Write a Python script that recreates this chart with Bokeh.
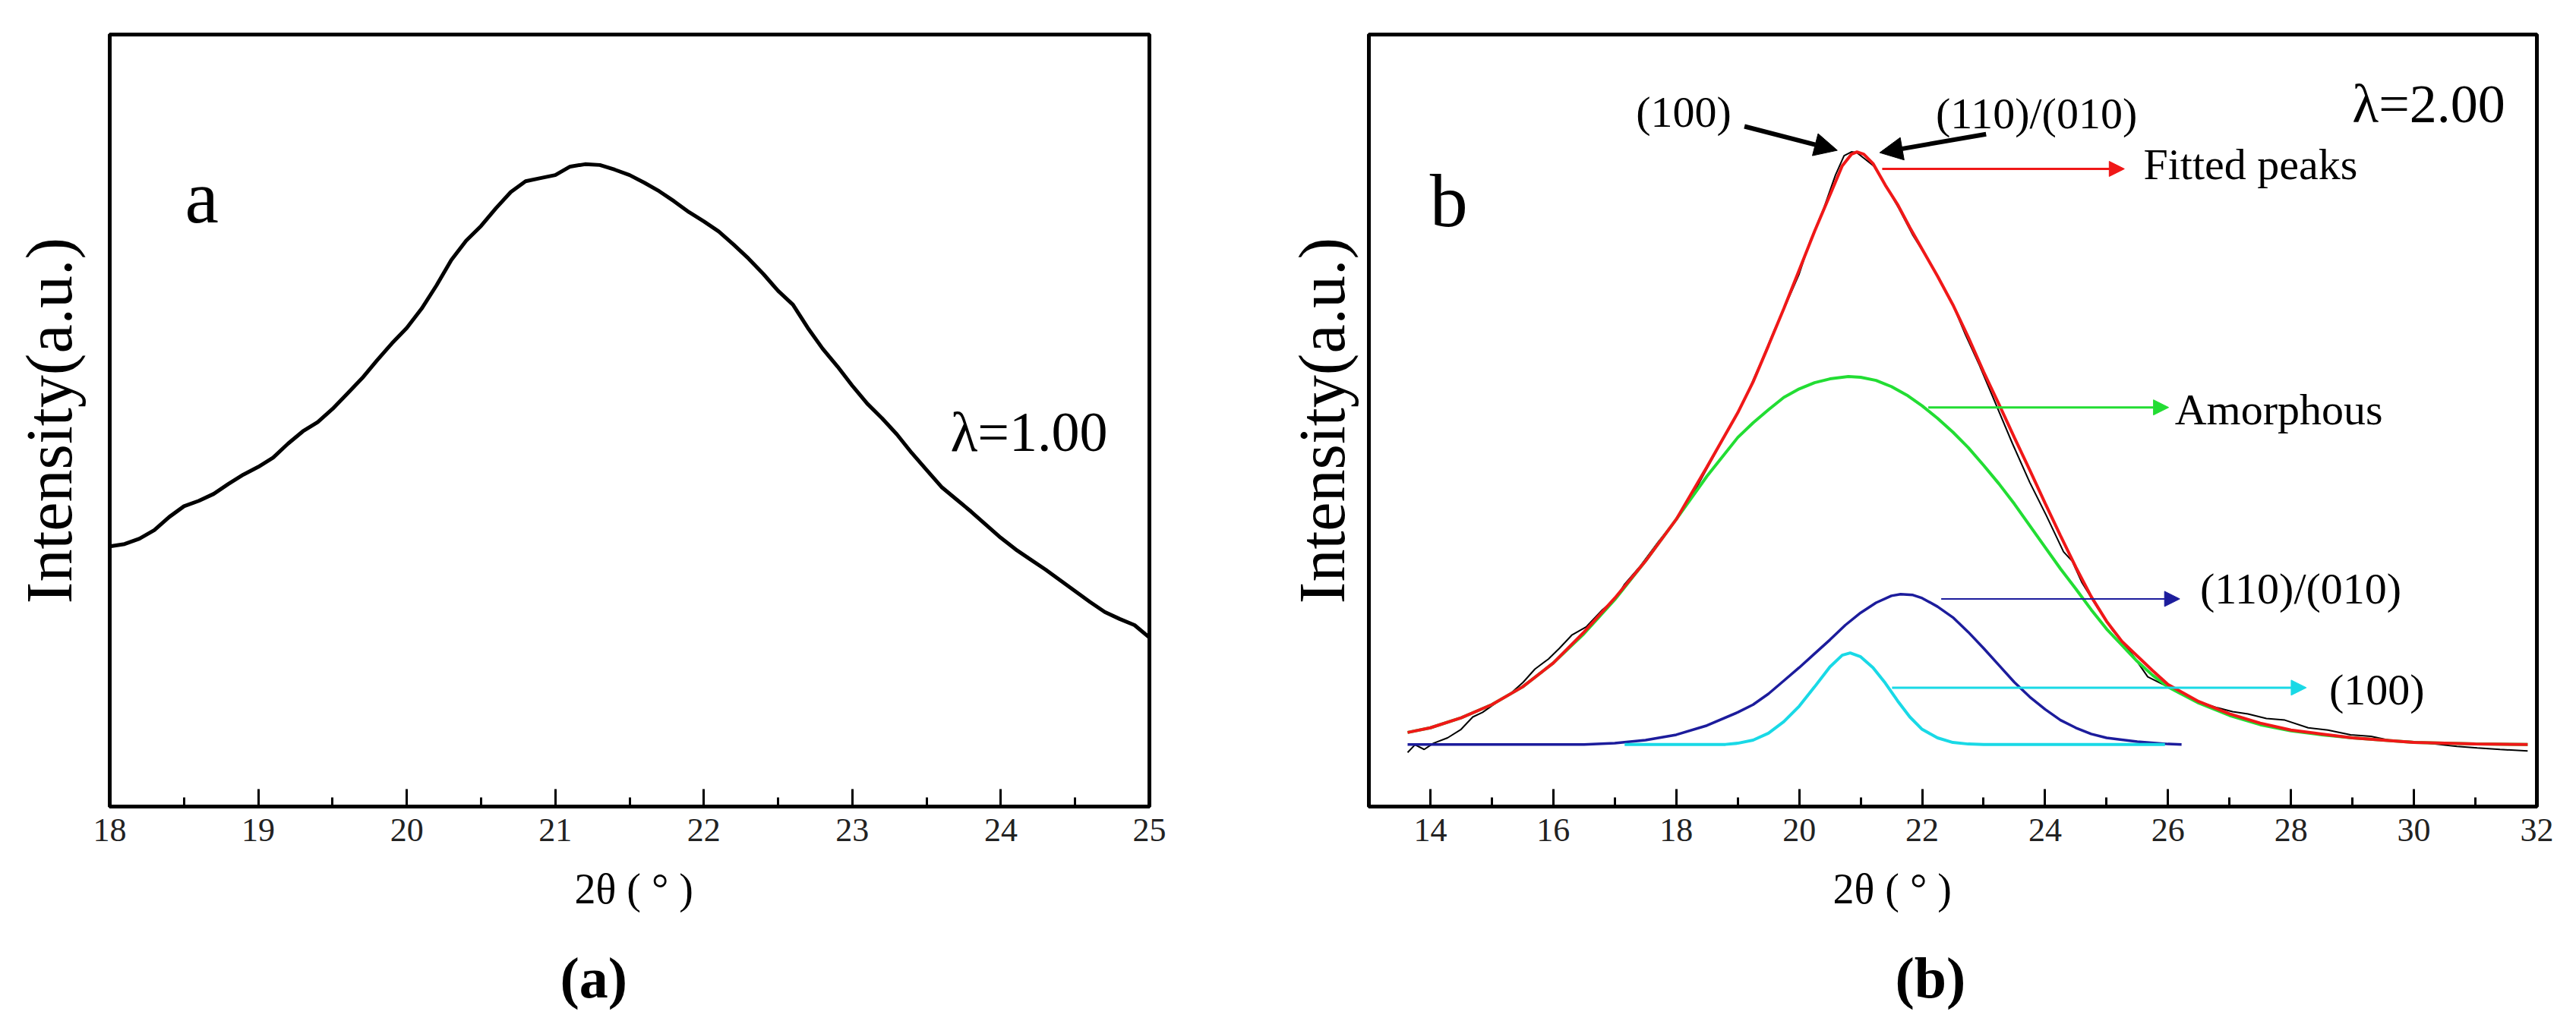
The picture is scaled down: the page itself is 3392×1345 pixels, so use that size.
from bokeh.plotting import figure
from bokeh.layouts import row
from bokeh.models import Label, Arrow, NormalHead, FixedTicker, Range1d, Title
from bokeh.embed import file_html
from bokeh.resources import INLINE

FONT = "Liberation Serif"

# ---------------- panel (a) data: lambda = 1.00 ----------------
xa = [18.0, 18.1, 18.2, 18.3, 18.4, 18.5, 18.6, 18.7, 18.8, 18.9, 19.0, 19.1, 19.2,
      19.3, 19.4, 19.5, 19.6, 19.7, 19.8, 19.9, 20.0, 20.1, 20.2, 20.3, 20.4, 20.5,
      20.6, 20.7, 20.8, 20.9, 21.0, 21.1, 21.2, 21.3, 21.4, 21.5, 21.6, 21.7, 21.8,
      21.9, 22.0, 22.1, 22.2, 22.3, 22.4, 22.5, 22.6, 22.7, 22.8, 22.9, 23.0, 23.1,
      23.2, 23.3, 23.4, 23.5, 23.6, 23.7, 23.8, 23.9, 24.0, 24.1, 24.2, 24.3, 24.4,
      24.5, 24.6, 24.7, 24.8, 24.9, 25.0]
ya = [0.337, 0.340, 0.347, 0.358, 0.375, 0.389, 0.396, 0.405, 0.418, 0.430, 0.440,
      0.452, 0.470, 0.486, 0.498, 0.515, 0.535, 0.555, 0.578, 0.600, 0.620, 0.645,
      0.675, 0.708, 0.733, 0.752, 0.775, 0.796, 0.810, 0.814, 0.818, 0.829, 0.832,
      0.831, 0.825, 0.818, 0.808, 0.797, 0.784, 0.770, 0.758, 0.745, 0.728, 0.710,
      0.690, 0.668, 0.650, 0.620, 0.593, 0.570, 0.545, 0.522, 0.503, 0.482, 0.458,
      0.436, 0.414, 0.398, 0.382, 0.365, 0.348, 0.333, 0.320, 0.307, 0.293, 0.279,
      0.265, 0.252, 0.243, 0.235, 0.219]

# ---------------- panel (b) data: lambda = 2.00 ----------------
xb_obs = [13.63, 13.75, 13.90, 14.05, 14.28, 14.50, 14.69, 14.85, 15.10, 15.30, 15.51,
          15.70, 15.92, 16.10, 16.30, 16.54, 16.80, 17.02, 17.16, 17.40, 17.71, 18.00,
          18.26, 18.50, 18.81, 19.10, 19.36, 19.60, 19.77, 20.00, 20.18, 20.40, 20.59,
          20.73, 20.85, 20.94, 21.05, 21.21, 21.40, 21.62, 21.85, 22.10, 22.30, 22.51,
          22.70, 22.93, 23.20, 23.47, 23.75, 24.02, 24.30, 24.44, 24.60, 24.85, 25.10,
          25.40, 25.67, 25.95, 26.20, 26.50, 26.80, 27.05, 27.30, 27.60, 27.90, 28.28,
          28.60, 28.97, 29.30, 29.65, 30.00, 30.34, 30.70, 31.03, 31.40, 31.85]
yb_obs = [0.070, 0.080, 0.074, 0.082, 0.089, 0.100, 0.116, 0.122, 0.136, 0.146, 0.161,
          0.178, 0.191, 0.205, 0.222, 0.233, 0.255, 0.270, 0.288, 0.310, 0.343, 0.372,
          0.403, 0.438, 0.483, 0.525, 0.572, 0.618, 0.648, 0.690, 0.733, 0.775, 0.818,
          0.843, 0.848, 0.847, 0.840, 0.830, 0.805, 0.775, 0.740, 0.708, 0.680, 0.648,
          0.612, 0.572, 0.521, 0.470, 0.420, 0.377, 0.330, 0.318, 0.290, 0.258, 0.228,
          0.199, 0.168, 0.157, 0.146, 0.136, 0.128, 0.123, 0.120, 0.114, 0.112, 0.102,
          0.099, 0.093, 0.091, 0.085, 0.084, 0.081, 0.078, 0.076, 0.074, 0.072]

xb_fit = [13.63, 14.0, 14.5, 15.0, 15.5, 16.0, 16.5, 17.0, 17.5, 18.0, 18.5, 19.0,
          19.25, 19.5, 19.75, 20.0, 20.25, 20.5, 20.7, 20.85, 20.94, 21.05, 21.2, 21.4,
          21.6, 21.8, 22.0, 22.25, 22.5, 22.75, 23.0, 23.25, 23.5, 23.75, 24.0, 24.25,
          24.5, 24.75, 25.0, 25.25, 25.5, 25.75, 26.0, 26.5, 27.0, 27.5, 28.0, 28.5,
          29.0, 29.5, 30.0, 30.5, 31.0, 31.85]
yb_fit = [0.096, 0.102, 0.115, 0.132, 0.155, 0.186, 0.226, 0.270, 0.318, 0.372, 0.440,
          0.510, 0.550, 0.597, 0.645, 0.695, 0.745, 0.792, 0.830, 0.845, 0.848, 0.845,
          0.833, 0.805, 0.780, 0.750, 0.722, 0.687, 0.650, 0.608, 0.563, 0.521, 0.478,
          0.436, 0.393, 0.351, 0.310, 0.272, 0.240, 0.214, 0.195, 0.176, 0.158, 0.136,
          0.120, 0.108, 0.099, 0.094, 0.089, 0.086, 0.083, 0.082, 0.081, 0.0805]

xb_amor = [13.63, 14.0, 14.5, 15.0, 15.5, 16.0, 16.5, 17.0, 17.5, 18.0, 18.5, 19.0,
           19.25, 19.5, 19.75, 20.0, 20.25, 20.5, 20.8, 21.0, 21.25, 21.5, 21.75, 22.0,
           22.25, 22.5, 22.75, 23.0, 23.25, 23.5, 23.75, 24.0, 24.25, 24.5, 24.75, 25.0,
           25.25, 25.5, 25.75, 26.0, 26.5, 27.0, 27.5, 28.0, 28.5, 29.0, 30.0, 31.0, 31.85]
yb_amor = [0.096, 0.102, 0.115, 0.132, 0.155, 0.186, 0.224, 0.268, 0.318, 0.372, 0.428,
           0.478, 0.497, 0.514, 0.530, 0.541, 0.549, 0.554, 0.557, 0.556, 0.552, 0.544,
           0.533, 0.519, 0.503, 0.485, 0.465, 0.442, 0.418, 0.392, 0.364, 0.336, 0.308,
           0.282, 0.255, 0.230, 0.209, 0.188, 0.170, 0.155, 0.134, 0.118, 0.106, 0.098,
           0.093, 0.089, 0.083, 0.081, 0.0805]

xb_110 = [13.63, 16.5, 17.0, 17.5, 18.0, 18.5, 19.0, 19.25, 19.5, 19.75, 20.0, 20.25,
          20.5, 20.75, 21.0, 21.25, 21.5, 21.65, 21.85, 22.0, 22.25, 22.5, 22.75, 23.0,
          23.25, 23.5, 23.75, 24.0, 24.25, 24.5, 24.75, 25.0, 25.5, 26.0, 26.22]
yb_110 = [0.0805, 0.0805, 0.082, 0.086, 0.093, 0.105, 0.122, 0.132, 0.146, 0.163, 0.180,
          0.198, 0.216, 0.235, 0.251, 0.264, 0.273, 0.275, 0.274, 0.270, 0.259, 0.245,
          0.226, 0.205, 0.183, 0.161, 0.142, 0.126, 0.112, 0.102, 0.094, 0.089, 0.084,
          0.081, 0.0805]

xb_100 = [17.16, 18.8, 19.0, 19.25, 19.5, 19.75, 20.0, 20.25, 20.5, 20.7, 20.83, 21.0,
          21.2, 21.4, 21.6, 21.8, 22.0, 22.25, 22.5, 22.75, 23.0, 25.95]
yb_100 = [0.0805, 0.0805, 0.082, 0.086, 0.095, 0.110, 0.130, 0.155, 0.181, 0.196, 0.199,
          0.194, 0.180, 0.160, 0.137, 0.116, 0.100, 0.089, 0.083, 0.081, 0.0805, 0.0805]

ticks_a = [18, 19, 20, 21, 22, 23, 24, 25]
minor_a = [18.5, 19.5, 20.5, 21.5, 22.5, 23.5, 24.5]
ticks_b = [14, 16, 18, 20, 22, 24, 26, 28, 30, 32]
minor_b = [15, 17, 19, 21, 23, 25, 27, 29, 31]


def make_fig(fw, left, right, top, xr, ticks, minor, ylab_standoff):
    p = figure(frame_width=fw, frame_height=1017, x_range=Range1d(*xr), y_range=Range1d(0, 1),
               output_backend="svg", toolbar_location=None,
               min_border_left=left, min_border_right=right,
               min_border_top=top, min_border_bottom=10)
    p.grid.visible = False
    p.background_fill_color = "white"
    p.border_fill_color = "white"
    p.outline_line_color = "black"
    p.outline_line_width = 5
    ax = p.xaxis[0]
    ax.ticker = FixedTicker(ticks=ticks, minor_ticks=minor)
    ax.major_tick_in = 23
    ax.major_tick_out = 0
    ax.minor_tick_in = 12
    ax.minor_tick_out = 0
    ax.major_tick_line_width = 3
    ax.minor_tick_line_width = 3
    ax.axis_line_width = 5
    ax.major_label_text_font = FONT
    ax.major_label_text_font_size = "44px"
    ax.major_label_text_color = "#222222"
    ax.major_label_standoff = 16
    ay = p.yaxis[0]
    ay.ticker = FixedTicker(ticks=[])
    ay.axis_line_width = 5
    ay.major_tick_line_color = None
    ay.minor_tick_line_color = None
    ay.axis_label = "Intensity(a.u.)"
    ay.axis_label_text_font = FONT
    ay.axis_label_text_font_size = "86px"
    ay.axis_label_text_font_style = "normal"
    ay.axis_label_text_color = "black"
    ay.axis_label_standoff = ylab_standoff
    return p


def below(p, s, size, offset, standoff, style="normal"):
    p.add_layout(Title(text=s, align="left", offset=offset, standoff=standoff,
                       text_font=FONT, text_font_size=size, text_font_style=style,
                       text_color="black"), "below")


def txt(p, x, y, s, size, align="left"):
    p.add_layout(Label(x=x, y=y, text=s, text_font=FONT, text_font_size=size,
                       text_align=align, text_baseline="middle", text_color="black"))


def arrow(p, x0, y0, x1, y1, color, lw, head):
    p.add_layout(Arrow(end=NormalHead(size=head, fill_color=color, line_color=color),
                       x_start=x0, y_start=y0, x_end=x1, y_end=y1,
                       line_color=color, line_width=lw))


# ---------------- figure (a) ----------------
pa = make_fig(1369, 144, 137, 43, (18, 25), ticks_a, minor_a, 32)
pa.line(xa, ya, line_color="black", line_width=5)
txt(pa, 18.62, 0.790, "a", "100px", "center")
txt(pa, 23.66, 0.485, "λ=1.00", "74px")
below(pa, "2θ ( ° )", "56px", 612, 54)
below(pa, "(a)", "76px", 593, 30, "bold")

# ---------------- figure (b) ----------------
pb = make_fig(1538, 152, 52, 45, (13, 32), ticks_b, minor_b, 14)
pb.line(xb_obs, yb_obs, line_color="black", line_width=2)
pb.line(xb_amor, yb_amor, line_color="#22DD33", line_width=4)
pb.line(xb_110, yb_110, line_color="#1C1C9C", line_width=3.5)
pb.line(xb_100, yb_100, line_color="#19D9E6", line_width=4)
pb.line(xb_fit, yb_fit, line_color="#F01818", line_width=4)

txt(pb, 14.30, 0.785, "b", "100px", "center")
txt(pb, 30.24, 0.910, "λ=2.00", "72px", "center")
txt(pb, 18.12, 0.900, "(100)", "58px", "center")
txt(pb, 23.86, 0.898, "(110)/(010)", "58px", "center")
txt(pb, 25.60, 0.832, "Fitted peaks", "58px")
txt(pb, 26.11, 0.514, "Amorphous", "58px")
txt(pb, 26.52, 0.282, "(110)/(010)", "58px")
txt(pb, 28.62, 0.151, "(100)", "58px")
below(pb, "2θ ( ° )", "56px", 611, 54)
below(pb, "(b)", "76px", 693, 30, "bold")

arrow(pb, 19.11, 0.881, 20.62, 0.850, "black", 6, 30)
arrow(pb, 23.04, 0.871, 21.31, 0.847, "black", 6, 30)
arrow(pb, 21.35, 0.826, 25.29, 0.826, "#F01818", 3, 20)
arrow(pb, 22.10, 0.517, 26.01, 0.517, "#22DD33", 3, 20)
arrow(pb, 22.31, 0.269, 26.19, 0.269, "#1C1C9C", 2, 20)
arrow(pb, 21.51, 0.154, 28.25, 0.154, "#19D9E6", 3, 20)

layout = row(pa, pb)
open("out.html", "w").write(file_html(layout, INLINE))
